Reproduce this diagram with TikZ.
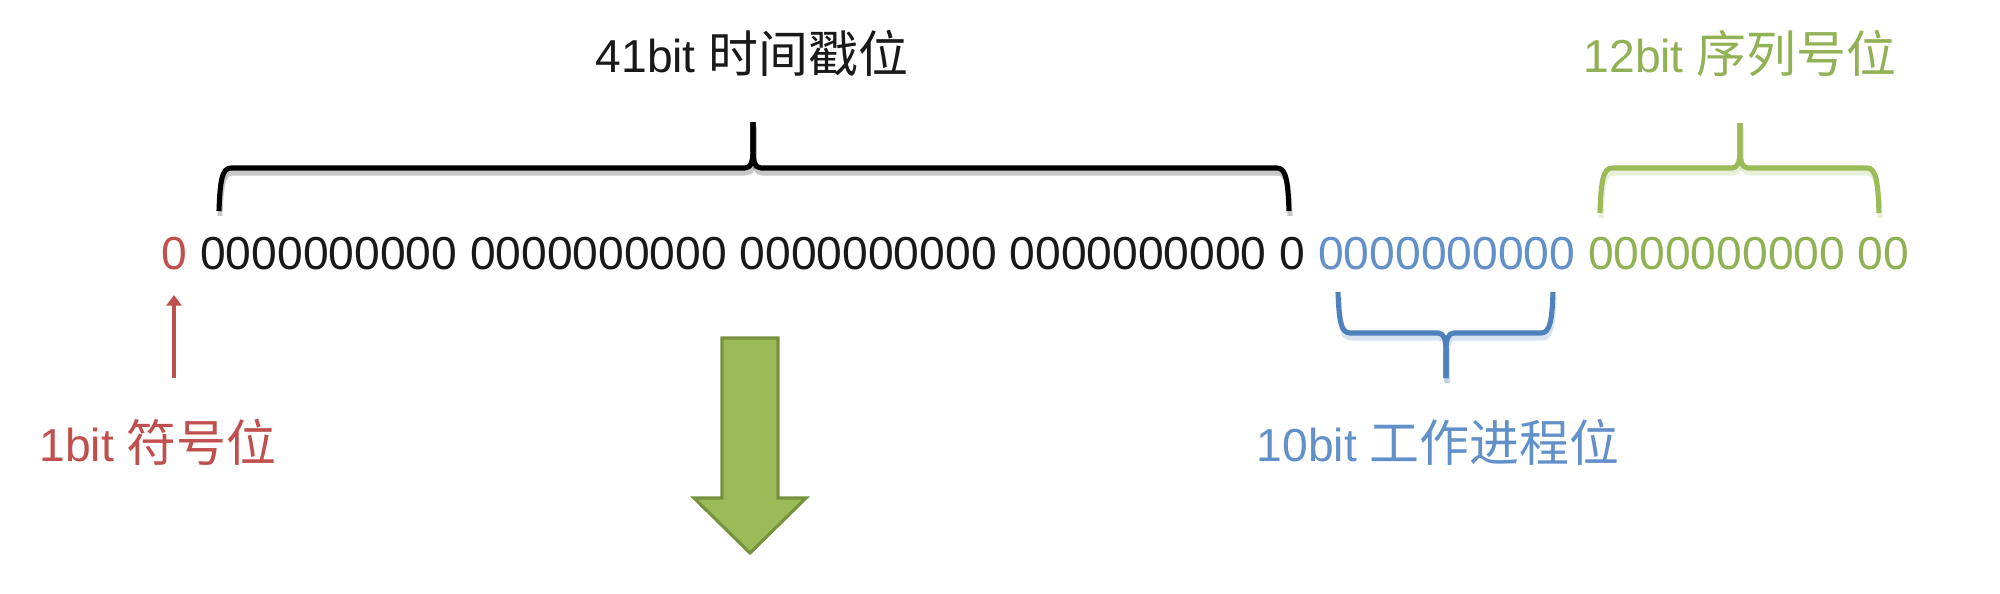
\documentclass[tikz,border=0pt]{standalone}
\usepackage{fontspec}
\setmainfont{Liberation Sans}
\newfontfamily\cjk[Scale=1.08]{Noto Sans CJK SC}
\usetikzlibrary{arrows.meta}
\definecolor{sred}{RGB}{192,80,77}
\definecolor{sblue}{RGB}{79,129,189}
\definecolor{sbluet}{RGB}{98,144,200}
\definecolor{sgreen}{RGB}{155,187,89}
\definecolor{sgreent}{RGB}{145,178,84}
\definecolor{sgreend}{RGB}{118,146,60}
\definecolor{sblack}{RGB}{25,25,25}
% #1 style, #2 xl, #3 xr, #4 xt, #5 yb (leg ends), #6 yh (horizontal), #7 yt (tip)
\newcommand\sfbrace[7]{%
  \draw[#1] (#2,#5) .. controls (#2+1,{#5+(#6-#5)*0.7}) and (#2+3,#6) .. (#2+12,#6)
     -- (#4-8,#6) .. controls (#4-2,#6) and (#4,{#6+(#7-#6)*0.15}) .. (#4,{#6+(#7-#6)*0.4})
     -- (#4,#7);
  \draw[#1] (#4,#7) -- (#4,{#6+(#7-#6)*0.4})
     .. controls (#4,{#6+(#7-#6)*0.15}) and (#4+2,#6) .. (#4+8,#6)
     -- (#3-12,#6) .. controls (#3-3,#6) and (#3-1,{#5+(#6-#5)*0.7}) .. (#3,#5);
}
\tikzset{
  txt/.style={inner sep=0pt, font=\fontsize{13.15pt}{16pt}\selectfont},
  bracestyle/.style={line width=1.45pt, line cap=butt, line join=round},
  shadowstyle/.style={bracestyle, opacity=0.22, shift={(1,5)}},
}
\begin{document}
\begin{tikzpicture}[x=0.1mm, y=-0.1mm]
\useasboundingbox (0,0) rectangle (2000,594);
\fill[white] (0,0) rectangle (2000,594);

% bit row
\node[txt, anchor=base west] (row) at (161,269)
  {\textcolor{sred}{0} \textcolor{sblack}{0000000000 0000000000 0000000000 0000000000 0} \textcolor{sbluet}{0000000000} \textcolor{sgreent}{0000000000 00}};

% labels
\node[txt, anchor=base, text=sblack] (lts) at (752,73) {41bit {\cjk 时间戳位}};
\node[txt, anchor=base, text=sgreent] (lseq) at (1740,73) {12bit {\cjk 序列号位}};
\node[txt, anchor=base, text=sred] (lsign) at (158,461) {1bit {\cjk 符号位}};
\node[txt, anchor=base, text=sbluet] (lwork) at (1438,461) {10bit {\cjk 工作进程位}};

% braces (shadow + line)
\sfbrace{shadowstyle, black}{219}{1289}{753}{211}{168}{122}
\sfbrace{bracestyle, black}{219}{1289}{753}{211}{168}{122}
\sfbrace{shadowstyle, sgreen}{1600}{1879}{1740}{213}{168}{123}
\sfbrace{bracestyle, sgreen}{1600}{1879}{1740}{213}{168}{123}
\sfbrace{shadowstyle, sblue}{1338}{1553}{1446}{292}{333}{378}
\sfbrace{bracestyle, sblue}{1338}{1553}{1446}{292}{333}{378}

% red arrow to sign bit
\coordinate (sa) at (174,378);
\coordinate (sb) at (174,295);
\draw[sred, line width=1.15pt, -{Triangle[length=3pt,width=4.2pt]}] (sa) -- (sb);

% big green arrow
\draw[fill=sgreen, draw=sgreend, line width=0.9pt, line join=miter]
  (722,338) -- (778,338) -- (778,498) -- (806,498) -- (750,553) -- (694,498) -- (722,498) -- cycle;
\end{tikzpicture}
\end{document}
